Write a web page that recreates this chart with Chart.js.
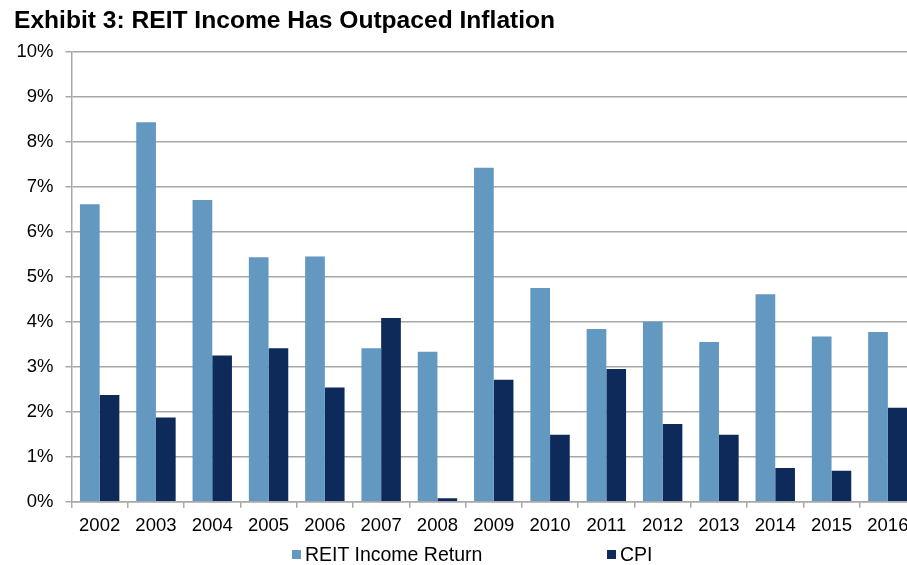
<!DOCTYPE html>
<html>
<head>
<meta charset="utf-8">
<script src="https://cdn.jsdelivr.net/npm/chart.js@4"></script>
<style>
  html, body { margin: 0; padding: 0; background: #fff; overflow: hidden; }
  #wrap { position: relative; width: 916px; height: 565px; }
  .legend-item { position: absolute; top: 544px; font: 19.5px "Liberation Sans", Arial, sans-serif; line-height: 20px; color: #000; white-space: nowrap; }
  .legend-item i { position: absolute; left: -13px; top: 6px; width: 9px; height: 9px; }
</style>
</head>
<body>
<div id="wrap">
  <canvas id="chart"></canvas>
  <div class="legend-item" style="left:305px"><i style="background:#6398c0"></i>REIT Income Return</div>
  <div class="legend-item" style="left:620px"><i style="background:#0e2a5a"></i>CPI</div>
</div>
<script>
// Доходность REIT против инфляции, % по годам
const years = ["2002", "2003", "2004", "2005", "2006", "2007", "2008", "2009",
  "2010", "2011", "2012", "2013", "2014", "2015", "2016"]
const reitIncome = [6.61, 8.43, 6.70, 5.43, 5.45, 3.41, 3.33, 7.42, 4.75, 3.84, 4.00, 3.55, 4.61, 3.67, 3.77]
const cpi = [2.37, 1.87, 3.25, 3.41, 2.54, 4.08, 0.08, 2.71, 1.49, 2.95, 1.73, 1.49, 0.75, 0.69, 2.09]

const font = { family: "'Liberation Sans', Arial, sans-serif", size: 18.5 }
const gridGray = "#a8a8a8"

new Chart(document.getElementById("chart"), {
  type: "bar",
  data: {
    labels: years,
    datasets: [
      { label: "REIT Income Return", data: reitIncome, backgroundColor: "#6398c0" },
      { label: "CPI", data: cpi, backgroundColor: "#0e2a5a" }
    ]
  },
  options: {
    responsive: true,
    maintainAspectRatio: false,
    animation: false,
    datasets: { bar: { categoryPercentage: 0.7, barPercentage: 1.0 } },
    layout: { padding: { left: 14, right: 0, top: 0, bottom: 21 } },
    plugins: {
      legend: { display: false },
      tooltip: { enabled: false },
      title: {
        display: true,
        text: "Exhibit 3: REIT Income Has Outpaced Inflation",
        align: "start",
        color: "#000",
        font: { family: font.family, size: 24.6, weight: "bold" },
        padding: { top: 6, bottom: 16 }
      }
    },
    scales: {
      x: {
        grid: { drawOnChartArea: false, drawTicks: true, tickLength: 6, color: gridGray, lineWidth: 1.5 },
        border: { color: gridGray, width: 1.5 },
        ticks: { color: "#000", font, padding: 7, maxRotation: 0, autoSkip: false }
      },
      y: {
        min: 0,
        max: 10,
        afterFit: scale => { scale.width = 57.5 },
        grid: { color: gridGray, lineWidth: 1.5, tickLength: 6 },
        border: { color: gridGray, width: 1.5 },
        ticks: {
          stepSize: 1,
          color: "#000",
          font,
          padding: 12,
          callback: value => `${value}%`
        }
      }
    }
  }
})
</script>
</body>
</html>
